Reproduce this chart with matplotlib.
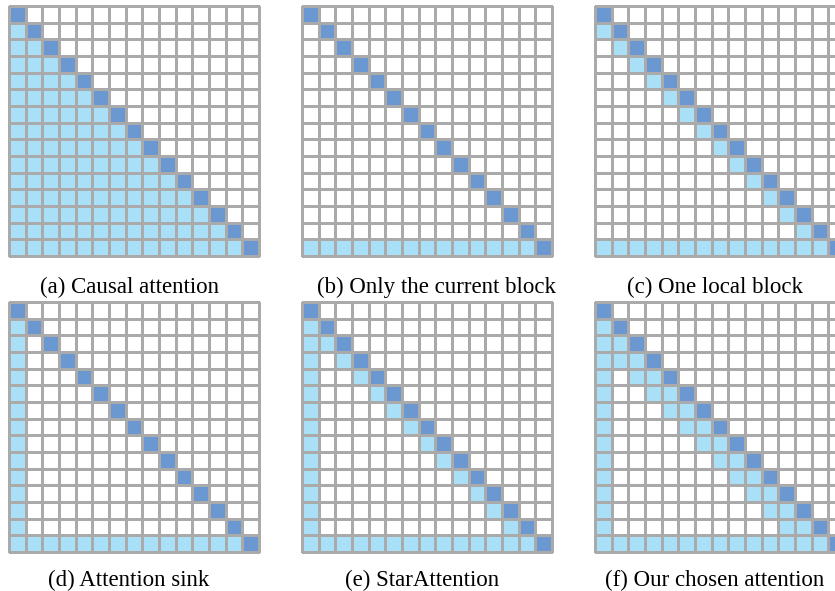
import numpy as np
import matplotlib
matplotlib.use("Agg")
import matplotlib.pyplot as plt
from matplotlib.colors import ListedColormap

# ---- data ----
n_blocks = 15
captions = ["(a) Causal attention", "(b) Only the current block", "(c) One local block",
            "(d) Attention sink", "(e) StarAttention", "(f) Our chosen attention"]
local_window = [14, 0, 1, 0, 1, 2]      # number of preceding blocks attended
sink_column = [0, 0, 0, 1, 1, 1]        # attends to first block
last_row_full = [1, 1, 1, 1, 1, 1]      # last block attends to all

# ---- layout (pixels) ----
W, H = 835, 591
panel_left = [9, 302, 595, 9, 302, 595]
panel_top = [6, 6, 6, 302, 302, 302]
panel_size = 250
cap_x = [129.5, 436.5, 715, 129, 422, 715]
cap_y = [293, 293, 293, 586, 586, 586]

white, light, dark, grid = "#ffffff", "#aadff8", "#6b98d0", "#aaaaaa"
cmap = ListedColormap([white, light, dark])

fig = plt.figure(figsize=(W / 100, H / 100), dpi=100)

for k in range(6):
    m = np.zeros((n_blocks, n_blocks))
    for i in range(n_blocks):
        for j in range(n_blocks):
            if i == j:
                m[i, j] = 2
            elif 0 < i - j <= local_window[k]:
                m[i, j] = 1
            elif sink_column[k] and j == 0 and i > 0:
                m[i, j] = 1
            elif last_row_full[k] and i == n_blocks - 1 and j < i:
                m[i, j] = 1
    ax = fig.add_axes([panel_left[k] / W, 1 - (panel_top[k] + panel_size) / H,
                       panel_size / W, panel_size / H])
    mesh = ax.pcolormesh(m, cmap=cmap, vmin=0, vmax=2, edgecolors=grid, linewidth=0.8)
    mesh.set_clip_on(False)
    ax.set_xlim(0, n_blocks)
    ax.set_ylim(n_blocks, 0)
    ax.set_aspect("auto")
    ax.axis("off")
    fig.text(cap_x[k] / W, 1 - cap_y[k] / H, captions[k], ha="center", va="baseline",
             fontsize=16.5, family=["Liberation Serif", "DejaVu Serif"])

fig.savefig("out.png", dpi=100)
